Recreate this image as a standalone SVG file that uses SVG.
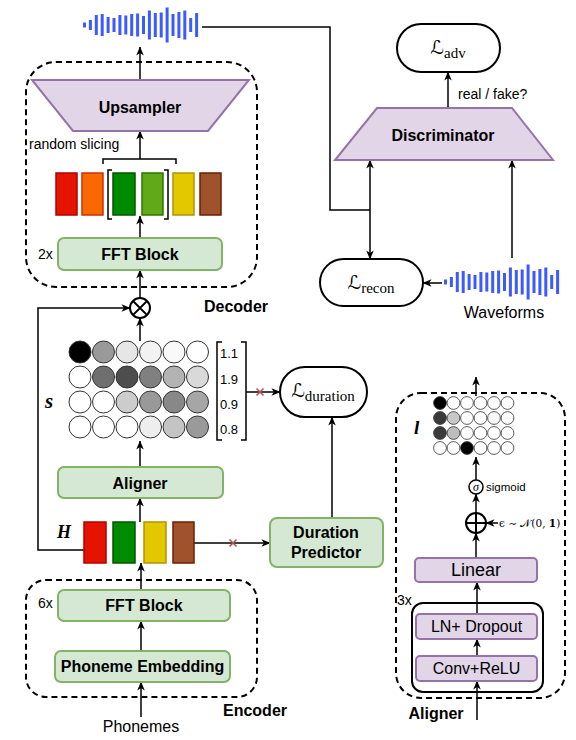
<svg xmlns="http://www.w3.org/2000/svg" width="576" height="740" viewBox="0 0 576 740">
<defs>
<style>
.t{font-family:"Liberation Sans",Arial,sans-serif;fill:#000}
.b{font-weight:bold;font-size:16px}
.purple{fill:#e1d5e7;stroke:#9673a6;stroke-width:2}
.green{fill:#d5e8d4;stroke:#82b366;stroke-width:2}
.dash{fill:none;stroke:#000;stroke-width:2;stroke-dasharray:6 4}
.ln{fill:none;stroke:#000;stroke-width:1.5}
.ar{fill:none;stroke:#000;stroke-width:1.5;marker-end:url(#ah)}
.pill{fill:#fff;stroke:#000;stroke-width:2}
.c{stroke:#333;stroke-width:1}
.cs{stroke:#333;stroke-width:0.8}
.L{font-family:"DejaVu Serif","DejaVu Sans",serif;font-size:19px}
.sub{font-family:"Liberation Serif","Times New Roman",serif;font-size:15px}
.rx{stroke:#b85450;stroke-width:1.6;fill:none}
.wv{fill:#3d5afe}
.m{font-family:"Liberation Serif","Times New Roman",serif;font-weight:bold;font-style:italic}
</style>
<marker id="ah" viewBox="0 0 10 10" refX="9.5" refY="5" markerWidth="9" markerHeight="9" markerUnits="userSpaceOnUse" orient="auto">
<path d="M0,0.8 L10,5 L0,9.2 L2.8,5 z" fill="#000"/>
</marker>
<g id="wave" class="wv">
<rect x="0" y="-2.5" width="3" height="5"/>
<rect x="5.9" y="-5" width="3" height="10"/>
<rect x="11.8" y="-10" width="3" height="20"/>
<rect x="17.7" y="-11" width="3" height="22"/>
<rect x="23.6" y="-8" width="3" height="16"/>
<rect x="29.5" y="-7" width="3" height="14"/>
<rect x="35.4" y="-10" width="3" height="20"/>
<rect x="41.3" y="-9.5" width="3" height="19"/>
<rect x="47.2" y="-11" width="3" height="22"/>
<rect x="53.1" y="-11.5" width="3" height="23"/>
<rect x="59" y="-9" width="3" height="18"/>
<rect x="64.9" y="-14.5" width="3" height="29"/>
<rect x="70.8" y="-12" width="3" height="24"/>
<rect x="76.7" y="-12.5" width="3" height="25"/>
<rect x="82.6" y="-17.5" width="3" height="35"/>
<rect x="88.5" y="-11" width="3" height="22"/>
<rect x="94.4" y="-13" width="3" height="26"/>
<rect x="100.3" y="-14.5" width="3" height="29"/>
<rect x="106.2" y="-7" width="3" height="14"/>
<rect x="112.1" y="-12" width="3" height="24"/>
</g>
</defs>
<rect width="576" height="740" fill="#fff"/>

<!-- connectors -->
<g id="connectors">
<polyline class="ln" points="202,27 330,27 330,210 370,210"/>
<line class="ar" x1="370" y1="210" x2="370" y2="160"/>
<line class="ar" x1="370" y1="210" x2="370" y2="259"/>
<line class="ar" x1="512" y1="258" x2="512" y2="160"/>
<line class="ar" x1="448" y1="108" x2="448" y2="72"/>
<line class="ar" x1="442" y1="283" x2="423" y2="283"/>
<line class="ar" x1="140" y1="80" x2="140" y2="47"/>
<polyline class="ln" points="103,164 103,159 176,159 176,164"/>
<line class="ar" x1="140" y1="159" x2="140" y2="131"/>
<line class="ar" x1="140" y1="238" x2="140" y2="216"/>
<line class="ar" x1="140" y1="298" x2="140" y2="270"/>
<polyline class="ar" points="84,550 38,550 38,308 130,308"/>
<line class="ar" x1="140" y1="341" x2="140" y2="318"/>
<line class="ar" x1="140" y1="467" x2="140" y2="441"/>
<line class="ar" x1="140" y1="522" x2="140" y2="498"/>
<line class="ar" x1="141" y1="590" x2="141" y2="563"/>
<line class="ar" x1="141" y1="651" x2="141" y2="621"/>
<line class="ar" x1="141" y1="717" x2="141" y2="682"/>
<line class="ar" x1="246" y1="392" x2="280" y2="392"/>
<path class="rx" d="M256.5,388.5 l7,7 M263.5,388.5 l-7,7"/>
<line class="ar" x1="194" y1="543" x2="270" y2="543"/>
<path class="rx" d="M229.5,539.5 l7,7 M236.5,539.5 l-7,7"/>
<line class="ar" x1="332" y1="518" x2="332" y2="417"/>
<line class="ar" x1="476" y1="396" x2="476" y2="377"/>
<line class="ar" x1="476" y1="480" x2="476" y2="457"/>
<line class="ar" x1="476" y1="513" x2="476" y2="494"/>
<line class="ar" x1="498" y1="523" x2="486" y2="523"/>
<line class="ar" x1="476" y1="558" x2="476" y2="533"/>
<line class="ar" x1="477" y1="614" x2="477" y2="582"/>
<line class="ar" x1="477" y1="656" x2="477" y2="639"/>
<line class="ar" x1="477" y1="720" x2="477" y2="681"/>
</g>

<!-- waveforms -->
<g id="wave-out"><use href="#wave" x="83" y="25"/></g>
<g id="waveforms">
<use href="#wave" x="444" y="282"/>
<text class="t" x="504" y="318" font-size="16" text-anchor="middle">Waveforms</text>
</g>

<!-- decoder -->
<g id="decoder">
<rect class="dash" x="26" y="62" width="231" height="225" rx="30"/>
<text class="t b" x="236" y="312" text-anchor="middle">Decoder</text>
</g>
<g id="upsampler">
<polygon class="purple" points="32,80 249,80 208,131 73,131"/>
<text class="t b" x="140" y="113" text-anchor="middle">Upsampler</text>
</g>
<g id="slicing">
<text class="t" x="29" y="149" font-size="14">random slicing</text>
<rect x="56" y="173" width="21" height="42" fill="#e51400" stroke="#b20000" stroke-width="1.5"/>
<rect x="82" y="173" width="21" height="42" fill="#fa6800" stroke="#c73500" stroke-width="1.5"/>
<rect x="113" y="173" width="22" height="42" fill="#008a00" stroke="#005700" stroke-width="1.5"/>
<rect x="142" y="173" width="21" height="42" fill="#60a917" stroke="#2d7600" stroke-width="1.5"/>
<rect x="173" y="173" width="21" height="42" fill="#e3c800" stroke="#b09500" stroke-width="1.5"/>
<rect x="200" y="173" width="21" height="42" fill="#a0522d" stroke="#6d1f00" stroke-width="1.5"/>
<polyline class="ln" points="112,170 108,170 108,219 112,219" stroke="#333"/>
<polyline class="ln" points="164,170 168,170 168,219 164,219" stroke="#333"/>
</g>
<g id="fft-dec">
<rect class="green" x="58" y="238" width="164" height="32" rx="6"/>
<text class="t b" x="140" y="260" text-anchor="middle">FFT Block</text>
<text class="t" x="38" y="259" font-size="14">2x</text>
</g>
<g id="mult">
<circle cx="140" cy="308" r="10" fill="#fff" stroke="#000" stroke-width="2"/>
<path d="M133,301 L147,315 M147,301 L133,315" stroke="#000" stroke-width="1.8"/>
</g>

<!-- discriminator -->
<g id="discriminator">
<polygon class="purple" points="377,108 512,108 553,160 335,160"/>
<text class="t b" x="443" y="141" text-anchor="middle">Discriminator</text>
</g>
<g id="ladv">
<rect class="pill" x="397" y="24" width="103" height="48" rx="24"/>
<text x="448" y="54" text-anchor="middle"><tspan class="L">ℒ</tspan><tspan class="sub" dy="4">adv</tspan></text>
</g>
<text class="t" x="458" y="99" font-size="14">real / fake?</text>
<g id="lrecon">
<rect class="pill" x="320" y="259" width="103" height="47" rx="23.5"/>
<text x="371" y="289" text-anchor="middle"><tspan class="L">ℒ</tspan><tspan class="sub" dy="4">recon</tspan></text>
</g>

<!-- S matrix -->
<g id="s-matrix">
<text class="m" x="45" y="408" font-size="21">s</text>
<circle class="c" cx="80" cy="352" r="11" fill="#000"/>
<circle class="c" cx="103.5" cy="352" r="11" fill="#999"/>
<circle class="c" cx="127" cy="352" r="11" fill="#e6e6e6"/>
<circle class="c" cx="150.5" cy="352" r="11" fill="#f2f2f2"/>
<circle class="c" cx="174" cy="352" r="11" fill="#f9f9f9"/>
<circle class="c" cx="197.5" cy="352" r="11" fill="#fff"/>
<circle class="c" cx="80" cy="377" r="11" fill="#fff"/>
<circle class="c" cx="103.5" cy="377" r="11" fill="#6f6f6f"/>
<circle class="c" cx="127" cy="377" r="11" fill="#4d4d4d"/>
<circle class="c" cx="150.5" cy="377" r="11" fill="#808080"/>
<circle class="c" cx="174" cy="377" r="11" fill="#b3b3b3"/>
<circle class="c" cx="197.5" cy="377" r="11" fill="#d9d9d9"/>
<circle class="c" cx="80" cy="402" r="11" fill="#fff"/>
<circle class="c" cx="103.5" cy="402" r="11" fill="#fff"/>
<circle class="c" cx="127" cy="402" r="11" fill="#cccccc"/>
<circle class="c" cx="150.5" cy="402" r="11" fill="#999"/>
<circle class="c" cx="174" cy="402" r="11" fill="#888"/>
<circle class="c" cx="197.5" cy="402" r="11" fill="#a6a6a6"/>
<circle class="c" cx="80" cy="427" r="11" fill="#fff"/>
<circle class="c" cx="103.5" cy="427" r="11" fill="#fff"/>
<circle class="c" cx="127" cy="427" r="11" fill="#fff"/>
<circle class="c" cx="150.5" cy="427" r="11" fill="#eee"/>
<circle class="c" cx="174" cy="427" r="11" fill="#c4c4c4"/>
<circle class="c" cx="197.5" cy="427" r="11" fill="#9a9a9a"/>
</g>
<g id="durations">
<polyline class="ln" points="222,342 217,342 217,440 222,440" stroke="#333"/>
<polyline class="ln" points="241,342 246,342 246,440 241,440" stroke="#333"/>
<text class="t" x="220" y="358" font-size="13">1.1</text>
<text class="t" x="220" y="384" font-size="13">1.9</text>
<text class="t" x="220" y="409" font-size="13">0.9</text>
<text class="t" x="220" y="434" font-size="13">0.8</text>
</g>
<g id="lduration">
<rect class="pill" x="280" y="367" width="87" height="50" rx="25"/>
<text x="323" y="397" text-anchor="middle"><tspan class="L">ℒ</tspan><tspan class="sub" dy="4">duration</tspan></text>
</g>

<!-- aligner & H -->
<g id="aligner-main">
<rect class="green" x="58" y="467" width="165" height="31" rx="6"/>
<text class="t b" x="140" y="489" text-anchor="middle">Aligner</text>
</g>
<g id="h-seq">
<text class="m" x="57" y="538" font-size="18">H</text>
<rect x="84" y="522" width="22" height="41" fill="#e51400" stroke="#b20000" stroke-width="1.5"/>
<rect x="113" y="522" width="22" height="41" fill="#008a00" stroke="#005700" stroke-width="1.5"/>
<rect x="144" y="522" width="22" height="41" fill="#e3c800" stroke="#b09500" stroke-width="1.5"/>
<rect x="173" y="522" width="21" height="41" fill="#a0522d" stroke="#6d1f00" stroke-width="1.5"/>
</g>
<g id="duration-predictor">
<rect class="green" x="270" y="518" width="113" height="49" rx="7"/>
<text class="t b" x="326" y="538" text-anchor="middle">Duration</text>
<text class="t b" x="326" y="558" text-anchor="middle">Predictor</text>
</g>

<!-- encoder -->
<g id="encoder">
<rect class="dash" x="26" y="580" width="231" height="117" rx="20"/>
<text class="t b" x="255" y="716" text-anchor="middle">Encoder</text>
</g>
<g id="fft-enc">
<rect class="green" x="58" y="590" width="172" height="31" rx="6"/>
<text class="t b" x="144" y="611" text-anchor="middle">FFT Block</text>
<text class="t" x="38" y="608" font-size="14">6x</text>
</g>
<g id="phoneme-embedding">
<rect class="green" x="55" y="651" width="175" height="31" rx="6"/>
<text class="t b" x="142.5" y="672" text-anchor="middle">Phoneme Embedding</text>
</g>
<text class="t" x="141" y="732" font-size="16" text-anchor="middle">Phonemes</text>

<!-- right aligner -->
<g id="aligner-detail">
<rect class="dash" x="396" y="393" width="169" height="305" rx="25"/>
<text class="t b" x="436" y="719" text-anchor="middle">Aligner</text>
<text class="t" x="397" y="605" font-size="14">3x</text>
</g>
<g id="l-matrix">
<text class="m" x="414" y="434" font-size="19">l</text>
<circle class="cs" cx="440" cy="403" r="6.4" fill="#000"/>
<circle class="cs" cx="453.5" cy="403" r="6.4" fill="#fff"/>
<circle class="cs" cx="467" cy="403" r="6.4" fill="#fff"/>
<circle class="cs" cx="480.5" cy="403" r="6.4" fill="#fff"/>
<circle class="cs" cx="494" cy="403" r="6.4" fill="#fff"/>
<circle class="cs" cx="507.5" cy="403" r="6.4" fill="#fff"/>
<circle class="cs" cx="440" cy="418" r="6.4" fill="#3a3a3a"/>
<circle class="cs" cx="453.5" cy="418" r="6.4" fill="#c8c8c8"/>
<circle class="cs" cx="467" cy="418" r="6.4" fill="#fff"/>
<circle class="cs" cx="480.5" cy="418" r="6.4" fill="#fff"/>
<circle class="cs" cx="494" cy="418" r="6.4" fill="#f7f7f7"/>
<circle class="cs" cx="507.5" cy="418" r="6.4" fill="#fff"/>
<circle class="cs" cx="440" cy="433" r="6.4" fill="#3a3a3a"/>
<circle class="cs" cx="453.5" cy="433" r="6.4" fill="#bdbdbd"/>
<circle class="cs" cx="467" cy="433" r="6.4" fill="#fff"/>
<circle class="cs" cx="480.5" cy="433" r="6.4" fill="#fff"/>
<circle class="cs" cx="494" cy="433" r="6.4" fill="#fff"/>
<circle class="cs" cx="507.5" cy="433" r="6.4" fill="#fff"/>
<circle class="cs" cx="440" cy="448" r="6.4" fill="#fff"/>
<circle class="cs" cx="453.5" cy="448" r="6.4" fill="#fff"/>
<circle class="cs" cx="467" cy="448" r="6.4" fill="#000"/>
<circle class="cs" cx="480.5" cy="448" r="6.4" fill="#fff"/>
<circle class="cs" cx="494" cy="448" r="6.4" fill="#fff"/>
<circle class="cs" cx="507.5" cy="448" r="6.4" fill="#fff"/>
</g>
<g id="sigmoid">
<circle cx="476" cy="487" r="7" fill="#fff" stroke="#000" stroke-width="1.5"/>
<text x="476" y="491" font-family="Liberation Serif,serif" font-style="italic" font-size="12" text-anchor="middle">σ</text>
<text class="t" x="486" y="491" font-size="11.5">sigmoid</text>
</g>
<g id="add">
<circle cx="476" cy="523" r="10" fill="#fff" stroke="#000" stroke-width="2"/>
<path d="M466,523 H486 M476,513 V533" stroke="#000" stroke-width="2"/>
<text x="499" y="527" font-family="DejaVu Serif,Liberation Serif,serif" font-size="10.5">ϵ ∼ 𝒩(0, <tspan font-weight="bold">1</tspan>)</text>
</g>
<g id="linear">
<rect class="purple" x="415" y="558" width="122" height="24" rx="4"/>
<text class="t" x="476" y="576" font-size="18" text-anchor="middle">Linear</text>
</g>
<g id="conv-stack">
<rect x="412" y="603" width="131" height="89" rx="11" fill="none" stroke="#000" stroke-width="2"/>
</g>
<g id="ln-dropout">
<rect class="purple" x="416" y="614" width="121" height="25" rx="4"/>
<text class="t" x="476.5" y="632" font-size="16" text-anchor="middle">LN+ Dropout</text>
</g>
<g id="conv-relu">
<rect class="purple" x="416" y="656" width="121" height="25" rx="4"/>
<text class="t" x="476.5" y="674" font-size="16" text-anchor="middle">Conv+ReLU</text>
</g>
</svg>
